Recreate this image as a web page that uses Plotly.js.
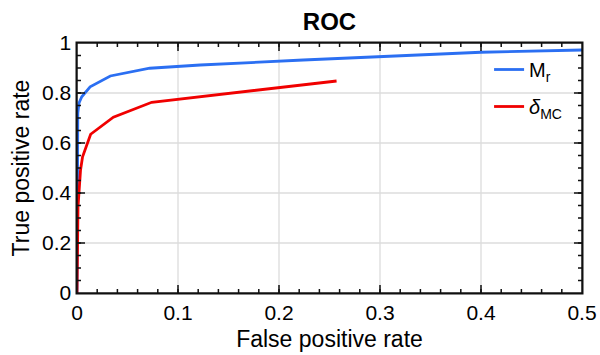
<!DOCTYPE html>
<html>
<head>
<meta charset="utf-8">
<script src="https://cdn.plot.ly/plotly-3.0.1.min.js"></script>
<style>
html,body{margin:0;padding:0;background:#fff;}
#chart{width:600px;height:355px;}
#chart .crisp{shape-rendering:auto !important;}
</style>
</head>
<body>
<div id="chart"></div>
<script>
// Series names
const seriesNames = ["M<sub>r</sub>", "<i>δ</i><sub>MC</sub>"];
// M_r ROC curve
const mrFpr = [0, 0.0003, 0.0008, 0.002, 0.0047, 0.013, 0.033, 0.072, 0.122, 0.224, 0.3, 0.4, 0.5, 1.0];
const mrTpr = [0, 0.45, 0.72, 0.76, 0.785, 0.825, 0.868, 0.899, 0.912, 0.932, 0.946, 0.963, 0.972, 1.0];
// delta_MC ROC curve
const dmFpr = [0, 0.0005, 0.001, 0.0035, 0.0055, 0.0135, 0.036, 0.074, 0.257];
const dmTpr = [0, 0.2, 0.345, 0.492, 0.545, 0.635, 0.703, 0.763, 0.848];
// Axis ticks
const xTicks = [0, 0.1, 0.2, 0.3, 0.4, 0.5];
const xTickText = ["0", "0.1", "0.2", "0.3", "0.4", "0.5"];
const yTicks = [0, 0.2, 0.4, 0.6, 0.8, 1];
const yTickText = ["0", "0.2", "0.4", "0.6", "0.8", "1"];

const FONT = "Liberation Sans, Arial, Helvetica, sans-serif";
const INK = "#111111";

const traces = [
  {x: mrFpr, y: mrTpr, name: seriesNames[0], legendgroup: "a", mode: "lines", line: {color: "#2b6ff2", width: 2.8}},
  {x: dmFpr, y: dmTpr, name: seriesNames[1], legendgroup: "b", mode: "lines", line: {color: "#f00000", width: 2.8}}
];

const axisCommon = {
  showline: true, linecolor: INK, linewidth: 1.5, mirror: "ticks",
  ticks: "inside", ticklen: 8, tickwidth: 1.5, tickcolor: INK,
  showgrid: true, gridcolor: "#dcdcdc", gridwidth: 1.3,
  zeroline: false,
  tickfont: {family: FONT, size: 21, color: "#000"}
};

const layout = {
  width: 600, height: 355,
  margin: {l: 77, r: 18, t: 43, b: 62},
  paper_bgcolor: "#fff", plot_bgcolor: "#fff",
  showlegend: true,
  title: {text: "<b>ROC</b>", x: 0.5, xanchor: "center", xref: "paper", y: 0.938, yref: "container", yanchor: "middle",
          font: {family: FONT, size: 24, color: "#000"}},
  xaxis: Object.assign({}, axisCommon, {
    range: [0, 0.5], tickvals: xTicks, ticktext: xTickText,
    minor: {dtick: 0.02, tick0: 0, ticks: "inside", ticklen: 4, tickcolor: INK, tickwidth: 1.5, showgrid: false},
    title: {text: "False positive rate", standoff: 8, font: {family: FONT, size: 23, color: "#000"}}
  }),
  yaxis: Object.assign({}, axisCommon, {
    range: [0, 1], tickvals: yTicks, ticktext: yTickText,
    minor: {dtick: 0.05, tick0: 0, ticks: "inside", ticklen: 4, tickcolor: INK, tickwidth: 1.5, showgrid: false},
    title: {text: "True positive rate", standoff: 6, font: {family: FONT, size: 23, color: "#000"}}
  }),
  shapes: [
    {type: "rect", xref: "paper", yref: "paper", x0: 0, x1: 1, y0: 0, y1: 1, layer: "above",
     line: {color: INK, width: 1.5}, fillcolor: "rgba(0,0,0,0)"}
  ],
  legend: {
    x: 0.816, xanchor: "left", y: 0.972, yanchor: "top",
    bgcolor: "rgba(255,255,255,0)", borderwidth: 0,
    font: {family: FONT, size: 20, color: "#000"},
    tracegroupgap: 8
  }
};

Plotly.newPlot("chart", traces, layout, {displayModeBar: false, staticPlot: true});
</script>
</body>
</html>
